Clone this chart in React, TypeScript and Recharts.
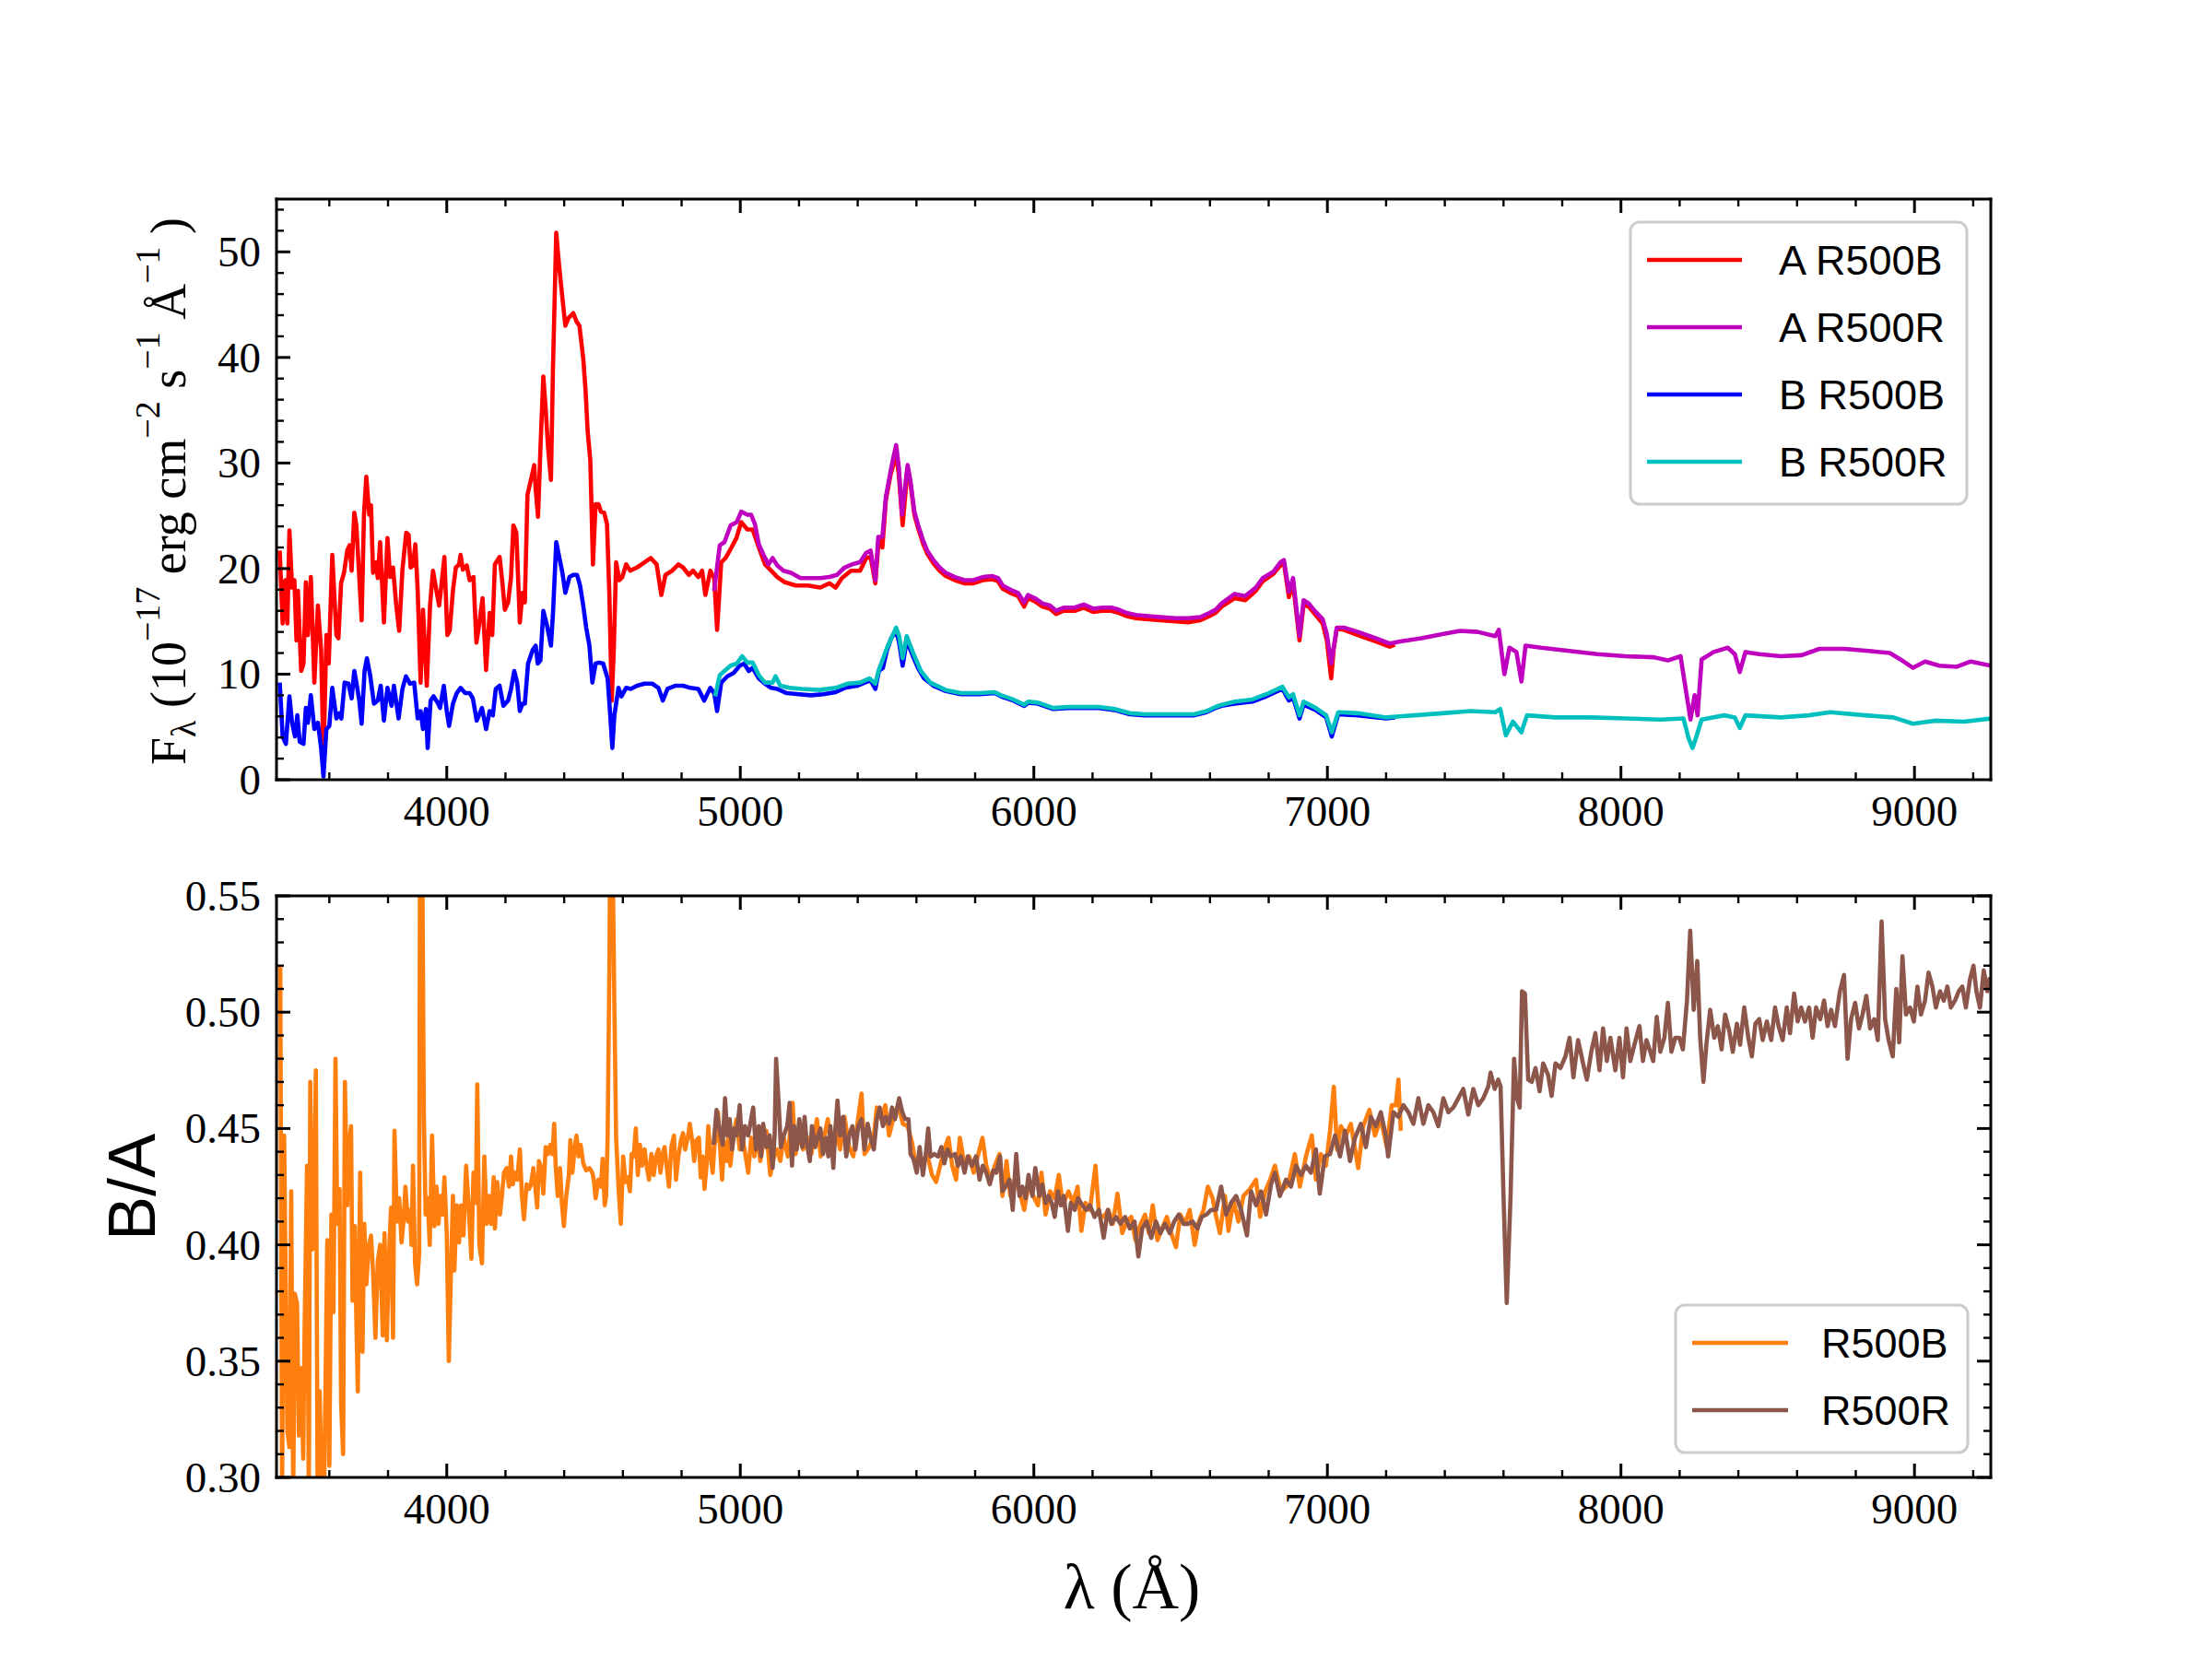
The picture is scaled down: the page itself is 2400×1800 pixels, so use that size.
import { LineChart, Line, XAxis, YAxis } from 'recharts';

type Pt = [number, number];

// ---- top panel: flux (1e-17 erg/cm2/s/A), [wavelength, value] ----
const aR500B: Pt[] = [
  [3431, 21.7], [3441, 14.8], [3450, 18.9], [3457, 14.8], [3464, 23.6], [3473, 18.2], [3481, 18.9], [3488, 13.2],
  [3493, 17.9], [3504, 10.3], [3512, 11], [3520, 18.7], [3527, 13.7], [3537, 19.2], [3549, 9.2], [3561, 16.5],
  [3572, 12.3], [3580, 2], [3590, 13.7], [3598, 11], [3610, 21.3], [3624, 13.7], [3631, 13.4], [3640, 18.6],
  [3650, 19.6], [3661, 21.7], [3669, 22.2], [3676, 19.8], [3685, 25.3], [3692, 24.1], [3702, 19.2], [3710, 15.1],
  [3718, 25.1], [3726, 28.7], [3736, 25.1], [3742, 26], [3749, 19.6], [3759, 20.6], [3765, 19.1], [3773, 22.5],
  [3786, 14.9], [3798, 22.9], [3807, 19.2], [3817, 20.1], [3828, 16.5], [3838, 14.1], [3849, 19.9], [3862, 23.4],
  [3870, 23.2], [3877, 20.1], [3885, 20.3], [3893, 22.3], [3901, 17.9], [3911, 9.2], [3919, 16.1], [3932, 8.9],
  [3943, 16.5], [3953, 19.8], [3963, 18.2], [3974, 16.5], [3981, 18.2], [3992, 21.1], [4002, 13.7], [4010, 14.1],
  [4021, 17.9], [4031, 20.1], [4042, 20.4], [4047, 21.3], [4055, 19.9], [4068, 20.3], [4078, 18.9], [4091, 19.2],
  [4101, 13], [4109, 14.4], [4122, 17.2], [4134, 10.4], [4146, 15.8], [4155, 13.7], [4164, 20.4], [4180, 21.1],
  [4188, 19.1], [4198, 16.1], [4209, 16.8], [4219, 19.2], [4227, 24.1], [4237, 23.4], [4249, 14.9], [4258, 17.7],
  [4266, 16.8], [4275, 27], [4285, 28.2], [4298, 29.8], [4303, 27.5], [4311, 24.9], [4319, 31.3], [4329, 38.2],
  [4337, 35.1], [4345, 31.5], [4355, 28.4], [4362, 39.2], [4373, 51.8], [4383, 48.6], [4396, 45.1], [4404, 43],
  [4414, 43.7], [4431, 44.2], [4442, 43.4], [4452, 43], [4465, 39.9], [4473, 36.8], [4480, 33], [4489, 30.3],
  [4498, 20.4], [4507, 26.1], [4517, 26.1], [4525, 25.4], [4536, 25.3], [4546, 24.2], [4554, 17.5], [4562, 7.5],
  [4569, 12.3], [4577, 20.6], [4588, 18.9], [4598, 19.2], [4611, 20.4], [4625, 19.8], [4648, 20.1], [4674, 20.6],
  [4695, 21], [4715, 20.4], [4731, 17.5], [4745, 19.4], [4768, 19.8], [4789, 20.4], [4805, 20.1], [4825, 19.4],
  [4839, 19.8], [4857, 19.2], [4870, 19.8], [4881, 17.5], [4898, 19.8], [4911, 19.1], [4921, 14.2], [4935, 20.6],
  [4950, 21], [4966, 21.8], [4987, 22.9], [5003, 24.4], [5024, 23.7], [5042, 23.7], [5063, 22], [5084, 20.4],
  [5105, 19.8], [5126, 19.2], [5152, 18.7], [5189, 18.4], [5231, 18.4], [5272, 18.2], [5304, 18.6], [5325, 18.2],
  [5346, 19.1], [5377, 19.8], [5408, 19.8], [5429, 21], [5444, 21.1], [5460, 18.6], [5472, 22.9], [5484, 22],
  [5496, 26.5], [5512, 28.9], [5531, 30.8], [5540, 28.9], [5553, 24.1], [5564, 27.6], [5570, 29.6], [5580, 28],
  [5593, 25.1], [5606, 23.8], [5622, 22.4], [5637, 21.4], [5658, 20.5], [5679, 19.8], [5700, 19.3], [5731, 18.9],
  [5763, 18.6], [5794, 18.6], [5826, 18.9], [5857, 19], [5878, 18.8], [5894, 18.1], [5920, 17.7], [5946, 17.4],
  [5967, 16.4], [5980, 17.2], [6003, 16.9], [6029, 16.4], [6055, 16.2], [6076, 15.7], [6102, 16], [6139, 16],
  [6170, 16.3], [6202, 15.9], [6233, 16], [6264, 16], [6290, 15.8], [6316, 15.5], [6348, 15.3], [6390, 15.2],
  [6431, 15.1], [6484, 15], [6525, 14.9], [6567, 15.1], [6598, 15.5], [6619, 15.8], [6640, 16.4], [6684, 17.2],
  [6720, 17], [6756, 17.9], [6780, 18.8], [6816, 19.5], [6840, 20.3], [6852, 20.5], [6869, 17.3], [6883, 18.6],
  [6905, 13.2], [6919, 16.6], [6936, 16.4], [6960, 15.6], [6984, 14.8], [6998, 13.2], [7013, 9.6], [7022, 12.5],
  [7032, 14.3], [7056, 14.2], [7104, 13.7], [7164, 13.1], [7212, 12.6], [7230, 12.8],
];

const aR500R: Pt[] = [
  [4911, 17.9], [4930, 22.2], [4946, 22.5], [4967, 24.1], [4988, 24.4], [5003, 25.4], [5024, 25.1], [5037, 25.1],
  [5050, 24.2], [5063, 22.3], [5079, 21.3], [5096, 20.4], [5110, 21], [5126, 20.3], [5147, 19.8], [5173, 19.6],
  [5205, 19.1], [5236, 19.1], [5272, 19.1], [5304, 19.2], [5329, 19.4], [5355, 20.1], [5381, 20.4], [5408, 20.6],
  [5429, 21.5], [5444, 21.7], [5460, 18.9], [5470, 23], [5484, 23], [5496, 26.8], [5512, 29.2], [5522, 30.6],
  [5531, 31.7], [5540, 29.6], [5551, 25.1], [5562, 27.9], [5570, 29.8], [5580, 28.2], [5593, 25.4], [5606, 24.1],
  [5622, 22.7], [5637, 21.7], [5658, 20.8], [5679, 20.1], [5700, 19.6], [5731, 19.2], [5763, 18.9], [5794, 18.9],
  [5826, 19.2], [5857, 19.3], [5878, 19.1], [5894, 18.4], [5920, 18], [5946, 17.7], [5967, 16.8], [5980, 17.5],
  [6003, 17.2], [6029, 16.7], [6055, 16.5], [6076, 16], [6102, 16.3], [6139, 16.3], [6170, 16.6], [6202, 16.2],
  [6233, 16.3], [6264, 16.3], [6290, 16.1], [6316, 15.8], [6348, 15.6], [6390, 15.5], [6431, 15.4], [6484, 15.3],
  [6525, 15.3], [6567, 15.4], [6598, 15.8], [6619, 16.1], [6640, 16.7], [6684, 17.6], [6720, 17.4], [6756, 18.2],
  [6780, 19.1], [6816, 19.7], [6840, 20.6], [6852, 20.8], [6869, 17.8], [6883, 19.1], [6905, 13.6], [6919, 17],
  [6936, 16.7], [6960, 15.9], [6984, 15.2], [6998, 13.8], [7013, 11], [7032, 14.4], [7056, 14.4], [7104, 14],
  [7164, 13.4], [7212, 12.9], [7248, 13.1], [7320, 13.4], [7392, 13.8], [7452, 14.1], [7512, 14], [7572, 13.6],
  [7584, 14.2], [7603, 10], [7620, 12.5], [7644, 12.1], [7661, 9.3], [7675, 12.7], [7728, 12.5], [7824, 12.2],
  [7920, 11.9], [8016, 11.7], [8112, 11.6], [8160, 11.3], [8203, 11.7], [8220, 8.7], [8237, 5.7], [8251, 8],
  [8261, 6.1], [8275, 11.4], [8316, 12.1], [8364, 12.5], [8388, 11.9], [8405, 10.2], [8424, 12.1], [8472, 11.9],
  [8544, 11.7], [8616, 11.8], [8676, 12.4], [8760, 12.4], [8844, 12.2], [8916, 12], [8952, 11.4], [8995, 10.6],
  [9036, 11.2], [9084, 10.8], [9144, 10.7], [9192, 11.2], [9260, 10.8],
];

const bR500B: Pt[] = [
  [3431, 9.2], [3441, 4.1], [3452, 3.4], [3464, 7.9], [3473, 5.4], [3483, 4.1], [3491, 6.1], [3499, 3.6],
  [3512, 3.4], [3520, 6.8], [3527, 5.4], [3537, 8], [3549, 4.8], [3561, 5.4], [3572, 3], [3580, 0.3],
  [3590, 4.8], [3600, 5.1], [3610, 8.7], [3624, 5.8], [3634, 6.3], [3641, 5.8], [3652, 9.2], [3665, 9.1],
  [3676, 7.7], [3685, 10.3], [3694, 8.9], [3702, 7.5], [3710, 5.3], [3720, 10.3], [3728, 11.5], [3739, 9.9],
  [3752, 7.2], [3765, 7.5], [3775, 8.9], [3786, 5.6], [3798, 8.7], [3812, 7], [3820, 8.9], [3836, 5.8],
  [3849, 8.6], [3861, 9.8], [3875, 9.1], [3889, 9.2], [3901, 5.8], [3911, 6.5], [3919, 4.8], [3929, 6.7],
  [3935, 3], [3945, 7.5], [3955, 7.9], [3969, 7.3], [3977, 6.8], [3990, 8.9], [4000, 6.5], [4008, 5.1],
  [4021, 7.2], [4034, 8.2], [4047, 8.7], [4063, 8.2], [4078, 8.2], [4089, 7.7], [4102, 5.6], [4120, 6.8],
  [4134, 4.8], [4146, 6.5], [4157, 6.1], [4167, 8.6], [4180, 8.9], [4193, 7], [4209, 7.5], [4219, 8.6],
  [4230, 10.3], [4240, 9.2], [4249, 6.5], [4258, 7.2], [4266, 7.2], [4277, 11], [4293, 12.3], [4303, 12.7],
  [4310, 11], [4319, 11.3], [4329, 16], [4340, 14.8], [4348, 13.7], [4355, 12.7], [4362, 15.8], [4373, 22.5],
  [4383, 21.1], [4394, 19.6], [4404, 17.7], [4418, 19.2], [4431, 19.4], [4444, 19.4], [4454, 18.4], [4465, 16.5],
  [4475, 14.4], [4486, 12.7], [4496, 9.2], [4507, 11], [4519, 11.1], [4533, 11], [4548, 9.6], [4557, 6.1],
  [4564, 3], [4571, 6.1], [4585, 8.7], [4595, 7.9], [4611, 8.7], [4627, 8.6], [4648, 8.9], [4674, 9.1],
  [4700, 9.1], [4721, 8.7], [4736, 7.5], [4752, 8.6], [4778, 8.9], [4805, 8.9], [4830, 8.7], [4857, 8.6],
  [4877, 7.5], [4898, 8.7], [4911, 8.2], [4921, 6.5], [4935, 9.2], [4956, 9.8], [4977, 10.1], [4998, 10.8],
  [5013, 11], [5029, 10.3], [5042, 10.6], [5063, 9.6], [5084, 9.1], [5105, 8.7], [5126, 8.6], [5158, 8.2],
  [5199, 8.1], [5241, 8], [5283, 8.1], [5325, 8.3], [5356, 8.7], [5398, 8.9], [5424, 9.2], [5444, 9.4],
  [5460, 8.6], [5472, 10.3], [5486, 10.6], [5500, 12.3], [5514, 13.4], [5531, 14.1], [5541, 13], [5553, 10.8],
  [5567, 13.2], [5584, 12], [5605, 10.6], [5626, 9.6], [5658, 8.9], [5700, 8.4], [5752, 8.1], [5815, 8.1],
  [5867, 8.2], [5888, 7.9], [5930, 7.5], [5967, 7], [5982, 7.3], [6014, 7.2], [6066, 6.7], [6118, 6.8],
  [6170, 6.8], [6222, 6.8], [6275, 6.6], [6327, 6.2], [6379, 6.1], [6431, 6.1], [6484, 6.1], [6546, 6.1],
  [6588, 6.4], [6619, 6.8], [6640, 7], [6684, 7.2], [6744, 7.4], [6792, 7.9], [6847, 8.6], [6869, 7.5],
  [6883, 7.8], [6905, 5.8], [6919, 7.1], [6960, 6.6], [6996, 5.9], [7015, 4.1], [7037, 6.2], [7104, 6.1],
  [7200, 5.8], [7230, 5.9],
];

const bR500R: Pt[] = [
  [4914, 7.9], [4930, 9.9], [4946, 10.3], [4967, 10.8], [4988, 11], [5006, 11.7], [5024, 11.1], [5042, 11.1],
  [5063, 9.9], [5084, 9.2], [5110, 9.2], [5120, 9.8], [5136, 8.9], [5168, 8.7], [5210, 8.6], [5272, 8.5],
  [5325, 8.7], [5366, 9.1], [5408, 9.2], [5440, 9.6], [5460, 9.1], [5472, 10.4], [5500, 12.5], [5531, 14.4],
  [5541, 13.6], [5553, 11.5], [5567, 13.6], [5589, 12], [5615, 10.3], [5647, 9.2], [5700, 8.5], [5752, 8.2],
  [5815, 8.2], [5867, 8.3], [5888, 8], [5930, 7.6], [5967, 7.1], [5982, 7.4], [6014, 7.3], [6066, 6.8],
  [6118, 6.9], [6170, 6.9], [6222, 6.9], [6275, 6.7], [6327, 6.3], [6379, 6.2], [6431, 6.2], [6484, 6.2],
  [6546, 6.2], [6588, 6.5], [6619, 6.9], [6640, 7.1], [6684, 7.4], [6744, 7.6], [6792, 8.1], [6847, 8.8],
  [6869, 7.8], [6883, 8.1], [6905, 6.1], [6919, 7.4], [6960, 6.8], [6996, 6.1], [7015, 4.5], [7037, 6.4],
  [7104, 6.3], [7200, 5.9], [7296, 6.1], [7392, 6.3], [7488, 6.5], [7572, 6.4], [7589, 6.7], [7608, 4.2],
  [7632, 5.5], [7661, 4.5], [7680, 6.1], [7776, 5.9], [7896, 5.9], [8016, 5.8], [8136, 5.7], [8213, 5.8],
  [8232, 3.8], [8244, 3], [8256, 4], [8275, 5.7], [8352, 6.1], [8388, 5.9], [8405, 4.9], [8424, 6.1],
  [8544, 5.9], [8640, 6.1], [8712, 6.4], [8832, 6.1], [8928, 5.9], [8995, 5.3], [9072, 5.6], [9168, 5.5],
  [9260, 5.8],
];

// ---- bottom panel: B/A ratio ----
const ratioR500B: Pt[] = [
  [3433, 0.52], [3439, 0.29], [3446, 0.447], [3457, 0.32], [3464, 0.313], [3470, 0.423], [3477, 0.29], [3482, 0.379],
  [3490, 0.375], [3496, 0.318], [3504, 0.347], [3511, 0.308], [3516, 0.366], [3524, 0.434], [3530, 0.29], [3535, 0.47],
  [3542, 0.398], [3547, 0.4], [3554, 0.475], [3560, 0.29], [3567, 0.337], [3575, 0.29], [3582, 0.29], [3593, 0.402],
  [3600, 0.305], [3607, 0.413], [3614, 0.371], [3621, 0.48], [3627, 0.409], [3635, 0.424], [3640, 0.332], [3647, 0.31],
  [3653, 0.47], [3661, 0.417], [3666, 0.442], [3674, 0.451], [3679, 0.376], [3687, 0.408], [3692, 0.368], [3697, 0.337],
  [3705, 0.431], [3713, 0.354], [3719, 0.409], [3726, 0.383], [3734, 0.399], [3742, 0.404], [3749, 0.388], [3757, 0.36],
  [3765, 0.393], [3773, 0.4], [3782, 0.361], [3788, 0.405], [3796, 0.359], [3803, 0.394], [3810, 0.416], [3817, 0.36],
  [3822, 0.449], [3830, 0.41], [3838, 0.42], [3846, 0.401], [3854, 0.412], [3859, 0.425], [3868, 0.41], [3875, 0.415],
  [3880, 0.4], [3885, 0.434], [3892, 0.392], [3899, 0.383], [3906, 0.396], [3909, 0.58], [3916, 0.58], [3922, 0.455],
  [3928, 0.413], [3935, 0.42], [3942, 0.4], [3950, 0.447], [3958, 0.408], [3965, 0.425], [3972, 0.409], [3979, 0.421],
  [3986, 0.413], [3992, 0.429], [4000, 0.405], [4007, 0.35], [4014, 0.387], [4021, 0.421], [4026, 0.389], [4034, 0.417],
  [4042, 0.401], [4049, 0.417], [4057, 0.404], [4066, 0.434], [4073, 0.42], [4084, 0.394], [4091, 0.431], [4099, 0.418],
  [4104, 0.469], [4111, 0.4], [4120, 0.392], [4128, 0.438], [4136, 0.409], [4143, 0.421], [4151, 0.409], [4160, 0.429],
  [4164, 0.407], [4172, 0.427], [4181, 0.413], [4188, 0.421], [4195, 0.431], [4204, 0.433], [4212, 0.425], [4219, 0.438],
  [4225, 0.426], [4232, 0.431], [4240, 0.428], [4249, 0.441], [4256, 0.421], [4263, 0.411], [4272, 0.426], [4280, 0.424],
  [4287, 0.426], [4295, 0.433], [4303, 0.423], [4308, 0.416], [4314, 0.436], [4322, 0.433], [4329, 0.422], [4337, 0.442],
  [4345, 0.439], [4353, 0.443], [4360, 0.439], [4366, 0.452], [4371, 0.434], [4378, 0.421], [4386, 0.433], [4392, 0.418],
  [4399, 0.408], [4407, 0.421], [4416, 0.43], [4421, 0.445], [4428, 0.431], [4436, 0.442], [4442, 0.447], [4449, 0.438],
  [4456, 0.443], [4465, 0.435], [4475, 0.432], [4486, 0.433], [4496, 0.431], [4501, 0.428], [4507, 0.42], [4517, 0.428],
  [4525, 0.425], [4531, 0.437], [4538, 0.417], [4543, 0.421], [4548, 0.446], [4554, 0.518], [4557, 0.58], [4564, 0.58],
  [4571, 0.502], [4577, 0.446], [4585, 0.425], [4593, 0.409], [4601, 0.438], [4609, 0.427], [4616, 0.429], [4624, 0.423],
  [4630, 0.439], [4637, 0.438], [4644, 0.45], [4651, 0.43], [4658, 0.443], [4665, 0.434], [4674, 0.441], [4682, 0.433],
  [4689, 0.428], [4697, 0.439], [4705, 0.43], [4713, 0.438], [4721, 0.441], [4728, 0.431], [4736, 0.439], [4742, 0.442],
  [4749, 0.434], [4757, 0.425], [4765, 0.442], [4774, 0.447], [4781, 0.428], [4789, 0.438], [4798, 0.445], [4805, 0.448],
  [4812, 0.441], [4821, 0.446], [4828, 0.452], [4837, 0.444], [4843, 0.436], [4851, 0.445], [4859, 0.446], [4865, 0.429],
  [4872, 0.438], [4878, 0.424], [4885, 0.434], [4891, 0.451], [4898, 0.439], [4906, 0.431], [4912, 0.443], [4919, 0.446],
  [4924, 0.457], [4933, 0.438], [4938, 0.428], [4945, 0.444], [4954, 0.436], [4961, 0.451], [4966, 0.434], [4977, 0.447],
  [4987, 0.454], [4998, 0.441], [5008, 0.446], [5027, 0.431], [5037, 0.446], [5048, 0.438], [5058, 0.447], [5068, 0.436],
  [5079, 0.444], [5089, 0.449], [5102, 0.43], [5115, 0.438], [5126, 0.441], [5136, 0.436], [5148, 0.446], [5162, 0.438],
  [5178, 0.461], [5188, 0.439], [5201, 0.447], [5214, 0.441], [5230, 0.446], [5242, 0.439], [5261, 0.454], [5274, 0.438],
  [5287, 0.447], [5298, 0.454], [5311, 0.441], [5324, 0.45], [5340, 0.441], [5355, 0.455], [5371, 0.442], [5385, 0.438],
  [5398, 0.451], [5413, 0.465], [5423, 0.439], [5439, 0.442], [5455, 0.447], [5465, 0.459], [5481, 0.454], [5494, 0.46],
  [5507, 0.447], [5523, 0.455], [5538, 0.46], [5554, 0.452], [5570, 0.451], [5585, 0.444], [5598, 0.434], [5608, 0.438],
  [5622, 0.436], [5637, 0.439], [5653, 0.43], [5667, 0.427], [5679, 0.433], [5695, 0.441], [5709, 0.446], [5722, 0.434],
  [5735, 0.428], [5748, 0.446], [5764, 0.434], [5780, 0.438], [5795, 0.431], [5811, 0.439], [5825, 0.446], [5838, 0.434],
  [5853, 0.428], [5867, 0.434], [5883, 0.439], [5893, 0.421], [5907, 0.436], [5920, 0.421], [5935, 0.428], [5951, 0.423],
  [5967, 0.415], [5982, 0.426], [5998, 0.421], [6014, 0.417], [6026, 0.431], [6040, 0.413], [6055, 0.423], [6071, 0.42],
  [6085, 0.43], [6099, 0.417], [6118, 0.423], [6134, 0.418], [6149, 0.425], [6162, 0.406], [6176, 0.418], [6191, 0.415],
  [6210, 0.434], [6222, 0.413], [6238, 0.412], [6254, 0.415], [6269, 0.409], [6285, 0.422], [6301, 0.405], [6317, 0.41],
  [6332, 0.412], [6346, 0.402], [6364, 0.409], [6379, 0.413], [6392, 0.405], [6405, 0.417], [6421, 0.402], [6437, 0.407],
  [6453, 0.412], [6468, 0.405], [6484, 0.399], [6499, 0.413], [6515, 0.409], [6531, 0.415], [6548, 0.4], [6562, 0.41],
  [6578, 0.415], [6593, 0.425], [6609, 0.42], [6621, 0.412], [6634, 0.405], [6651, 0.421], [6663, 0.406], [6680, 0.419],
  [6697, 0.41], [6714, 0.421], [6736, 0.424], [6757, 0.428], [6771, 0.412], [6788, 0.423], [6805, 0.428], [6821, 0.434],
  [6842, 0.423], [6867, 0.426], [6889, 0.439], [6906, 0.425], [6927, 0.438], [6947, 0.447], [6961, 0.428], [6978, 0.439],
  [6995, 0.434], [7009, 0.449], [7022, 0.468], [7033, 0.441], [7046, 0.451], [7063, 0.447], [7080, 0.452], [7105, 0.433],
  [7122, 0.451], [7143, 0.458], [7162, 0.447], [7182, 0.454], [7202, 0.442], [7219, 0.46], [7233, 0.46], [7242, 0.471],
  [7250, 0.449],
];

const ratioR500R: Pt[] = [
  [4909, 0.443], [4919, 0.458], [4930, 0.449], [4940, 0.443], [4948, 0.463], [4956, 0.447], [4964, 0.454], [4972, 0.441],
  [4980, 0.45], [4987, 0.447], [4998, 0.46], [5006, 0.441], [5016, 0.451], [5027, 0.447], [5034, 0.452], [5044, 0.459],
  [5053, 0.441], [5063, 0.451], [5071, 0.438], [5078, 0.452], [5089, 0.442], [5100, 0.447], [5110, 0.433], [5117, 0.447],
  [5122, 0.48], [5131, 0.46], [5138, 0.442], [5148, 0.447], [5160, 0.451], [5168, 0.461], [5176, 0.434], [5183, 0.451],
  [5192, 0.441], [5201, 0.454], [5211, 0.442], [5219, 0.455], [5226, 0.444], [5237, 0.436], [5244, 0.451], [5255, 0.442],
  [5265, 0.447], [5273, 0.45], [5282, 0.439], [5292, 0.446], [5300, 0.438], [5307, 0.451], [5317, 0.433], [5324, 0.45],
  [5331, 0.462], [5340, 0.447], [5350, 0.455], [5361, 0.438], [5371, 0.447], [5382, 0.451], [5392, 0.441], [5402, 0.451],
  [5413, 0.454], [5423, 0.441], [5434, 0.452], [5444, 0.446], [5455, 0.441], [5465, 0.454], [5475, 0.459], [5486, 0.451],
  [5496, 0.455], [5507, 0.452], [5517, 0.459], [5527, 0.454], [5541, 0.463], [5552, 0.457], [5562, 0.454], [5573, 0.454],
  [5580, 0.439], [5590, 0.437], [5601, 0.431], [5611, 0.442], [5622, 0.43], [5632, 0.439], [5640, 0.45], [5648, 0.438],
  [5661, 0.439], [5674, 0.438], [5685, 0.442], [5695, 0.435], [5706, 0.441], [5716, 0.438], [5732, 0.439], [5742, 0.434],
  [5752, 0.438], [5764, 0.431], [5775, 0.438], [5789, 0.434], [5803, 0.438], [5815, 0.428], [5826, 0.434], [5838, 0.431],
  [5850, 0.426], [5862, 0.432], [5872, 0.431], [5885, 0.438], [5893, 0.423], [5904, 0.425], [5917, 0.428], [5928, 0.415],
  [5940, 0.439], [5951, 0.421], [5961, 0.425], [5972, 0.42], [5982, 0.43], [5995, 0.421], [6005, 0.433], [6019, 0.421],
  [6029, 0.426], [6040, 0.418], [6050, 0.421], [6061, 0.418], [6071, 0.412], [6082, 0.423], [6092, 0.417], [6102, 0.421],
  [6116, 0.406], [6126, 0.418], [6139, 0.415], [6151, 0.42], [6165, 0.417], [6179, 0.415], [6191, 0.417], [6207, 0.412],
  [6222, 0.415], [6238, 0.403], [6252, 0.415], [6264, 0.409], [6280, 0.412], [6295, 0.409], [6311, 0.412], [6327, 0.407],
  [6343, 0.41], [6356, 0.395], [6369, 0.407], [6384, 0.41], [6400, 0.403], [6416, 0.41], [6431, 0.405], [6447, 0.409],
  [6463, 0.405], [6478, 0.41], [6494, 0.413], [6510, 0.409], [6525, 0.409], [6541, 0.41], [6557, 0.407], [6572, 0.412],
  [6588, 0.413], [6604, 0.415], [6621, 0.415], [6638, 0.425], [6655, 0.413], [6672, 0.418], [6689, 0.421], [6706, 0.415],
  [6726, 0.404], [6740, 0.423], [6757, 0.417], [6774, 0.423], [6791, 0.413], [6808, 0.426], [6821, 0.431], [6838, 0.421],
  [6859, 0.428], [6876, 0.425], [6893, 0.434], [6910, 0.43], [6927, 0.434], [6944, 0.431], [6961, 0.441], [6974, 0.422],
  [6991, 0.438], [7009, 0.439], [7026, 0.447], [7043, 0.438], [7060, 0.449], [7077, 0.436], [7094, 0.446], [7114, 0.452],
  [7131, 0.442], [7148, 0.455], [7165, 0.451], [7182, 0.457], [7199, 0.447], [7207, 0.438], [7225, 0.457], [7242, 0.455],
  [7259, 0.46], [7276, 0.457], [7293, 0.452], [7310, 0.463], [7327, 0.452], [7344, 0.46], [7361, 0.457], [7378, 0.451],
  [7395, 0.463], [7412, 0.457], [7429, 0.459], [7446, 0.463], [7463, 0.467], [7480, 0.456], [7497, 0.467], [7514, 0.46],
  [7531, 0.463], [7548, 0.468], [7556, 0.474], [7570, 0.467], [7582, 0.471], [7590, 0.468], [7600, 0.421], [7611, 0.375],
  [7624, 0.421], [7636, 0.48], [7646, 0.463], [7655, 0.459], [7663, 0.509], [7673, 0.508], [7684, 0.471], [7696, 0.47],
  [7709, 0.476], [7723, 0.466], [7735, 0.478], [7752, 0.473], [7764, 0.464], [7777, 0.478], [7794, 0.476], [7811, 0.481],
  [7825, 0.489], [7838, 0.472], [7854, 0.488], [7871, 0.478], [7884, 0.471], [7899, 0.483], [7913, 0.491], [7927, 0.475],
  [7939, 0.493], [7952, 0.479], [7964, 0.489], [7981, 0.475], [7995, 0.489], [8007, 0.472], [8019, 0.493], [8032, 0.479],
  [8046, 0.486], [8063, 0.494], [8075, 0.479], [8087, 0.488], [8100, 0.483], [8110, 0.479], [8122, 0.498], [8134, 0.483],
  [8148, 0.489], [8160, 0.504], [8172, 0.483], [8185, 0.489], [8199, 0.489], [8211, 0.484], [8225, 0.505], [8236, 0.535],
  [8248, 0.501], [8260, 0.522], [8270, 0.489], [8281, 0.47], [8291, 0.486], [8304, 0.501], [8318, 0.489], [8330, 0.494],
  [8343, 0.484], [8355, 0.499], [8369, 0.492], [8381, 0.483], [8395, 0.495], [8406, 0.486], [8420, 0.502], [8434, 0.489],
  [8446, 0.481], [8458, 0.495], [8471, 0.497], [8483, 0.488], [8497, 0.496], [8512, 0.488], [8525, 0.502], [8537, 0.494],
  [8551, 0.488], [8565, 0.502], [8576, 0.491], [8590, 0.508], [8602, 0.496], [8614, 0.502], [8627, 0.496], [8641, 0.502],
  [8653, 0.489], [8665, 0.502], [8679, 0.497], [8692, 0.505], [8704, 0.494], [8716, 0.501], [8729, 0.494], [8746, 0.509],
  [8760, 0.516], [8772, 0.48], [8784, 0.497], [8798, 0.504], [8811, 0.493], [8823, 0.499], [8836, 0.507], [8849, 0.493],
  [8863, 0.497], [8875, 0.488], [8888, 0.539], [8900, 0.497], [8912, 0.488], [8926, 0.481], [8938, 0.51], [8948, 0.487],
  [8959, 0.524], [8971, 0.499], [8985, 0.502], [8998, 0.496], [9010, 0.511], [9022, 0.499], [9036, 0.505], [9048, 0.517],
  [9061, 0.511], [9073, 0.502], [9087, 0.509], [9100, 0.505], [9112, 0.511], [9124, 0.502], [9138, 0.505], [9151, 0.509],
  [9163, 0.511], [9175, 0.502], [9189, 0.514], [9201, 0.52], [9211, 0.509], [9223, 0.502], [9236, 0.518], [9248, 0.509],
  [9257, 0.515],
];

// ---- axes ----
const xDomain = [3420, 9260];
const xTicks = [3600, 3800, 4000, 4200, 4400, 4600, 4800, 5000, 5200, 5400, 5600, 5800, 6000, 6200, 6400, 6600,
  6800, 7000, 7200, 7400, 7600, 7800, 8000, 8200, 8400, 8600, 8800, 9000, 9200];
const fluxDomain = [0, 55];
const fluxTicks = [0, 2, 4, 6, 8, 10, 12, 14, 16, 18, 20, 22, 24, 26, 28, 30, 32, 34, 36, 38, 40, 42, 44, 46, 48,
  50, 52, 54];
const ratioDomain = [0.3, 0.55];
const ratioTicks = [0.3, 0.31, 0.32, 0.33, 0.34, 0.35, 0.36, 0.37, 0.38, 0.39, 0.4, 0.41, 0.42, 0.43, 0.44, 0.45,
  0.46, 0.47, 0.48, 0.49, 0.5, 0.51, 0.52, 0.53, 0.54, 0.55];

const fluxSeries = [
  { name: 'A R500B', color: '#ff0000', data: aR500B },
  { name: 'A R500R', color: '#bf00bf', data: aR500R },
  { name: 'B R500B', color: '#0000ff', data: bR500B },
  { name: 'B R500R', color: '#00bfbf', data: bR500R },
];
const ratioSeries = [
  { name: 'R500B', color: '#ff7f0e', data: ratioR500B },
  { name: 'R500R', color: '#8c564b', data: ratioR500R },
];

const SERIF = '"Liberation Serif", "Times New Roman", serif';
const SANS = '"Liberation Sans", Arial, sans-serif';
const LW = 4.6;

const toRows = (pts: Pt[]) => pts.map(([x, y]) => ({ x, y }));

const majorX = (v: number) => v % 1000 === 0;
const majorFlux = (v: number) => v % 10 === 0;
const majorRatio = (v: number) => Math.abs(v * 20 - Math.round(v * 20)) < 1e-6;

// matplotlib-style inward ticks, drawn by hand
function makeTick(side: 'bottom' | 'top' | 'left' | 'right', isMajor: (v: number) => boolean, fmt?: (v: number) => string) {
  return (props: any) => {
    const { x, y, payload } = props;
    const v = payload.value;
    const major = isMajor(v);
    const len = major ? 15 : 8;
    let x2 = x;
    let y2 = y;
    if (side === 'bottom') y2 = y - len;
    if (side === 'top') y2 = y + len;
    if (side === 'left') x2 = x + len;
    if (side === 'right') x2 = x - len;
    let label = null;
    if (fmt && major && side === 'bottom') {
      label = <text x={x} y={y + 50} textAnchor="middle" fontSize={47} fontFamily={SERIF} fill="#000">{fmt(v)}</text>;
    }
    if (fmt && major && side === 'left') {
      label = <text x={x - 17} y={y + 16} textAnchor="end" fontSize={47} fontFamily={SERIF} fill="#000">{fmt(v)}</text>;
    }
    return (
      <g>
        <line x1={x} y1={y} x2={x2} y2={y2} stroke="#000" strokeWidth={major ? 3 : 2.4} />
        {label}
      </g>
    );
  };
}

const spine = { stroke: '#000', strokeWidth: 3, strokeLinecap: 'square' as const };

function Panel({ top, height, margin, yDomain, yTicks, yMajor, yFmt, series, clipY }: any) {
  return (
    <div style={{ position: 'absolute', left: 0, top }}>
      <LineChart width={2400} height={height} margin={margin}>
        <XAxis xAxisId="b" type="number" dataKey="x" domain={xDomain} ticks={xTicks} interval={0} allowDataOverflow
          height={60} tickSize={0} tickMargin={0} tickLine={false} axisLine={spine}
          tick={makeTick('bottom', majorX, (v) => String(v))} />
        <XAxis xAxisId="t" orientation="top" type="number" dataKey="x" domain={xDomain} ticks={xTicks} interval={0}
          allowDataOverflow height={1} tickSize={0} tickMargin={0} tickLine={false} axisLine={spine}
          tick={makeTick('top', majorX)} />
        <YAxis yAxisId="l" type="number" domain={yDomain} ticks={yTicks} interval={0} allowDataOverflow={clipY}
          width={100} tickSize={0} tickMargin={0} tickLine={false} axisLine={spine}
          tick={makeTick('left', yMajor, yFmt)} />
        <YAxis yAxisId="r" orientation="right" type="number" domain={yDomain} ticks={yTicks} interval={0}
          allowDataOverflow={clipY} width={1} tickSize={0} tickMargin={0} tickLine={false} axisLine={spine}
          tick={makeTick('right', yMajor)} />
        {series.map((s: any) => (
          <Line key={s.name} xAxisId="b" yAxisId="l" data={toRows(s.data)} dataKey="y" type="linear" stroke={s.color}
            strokeWidth={LW} strokeLinejoin="round" dot={false} activeDot={false} isAnimationActive={false} />
        ))}
      </LineChart>
    </div>
  );
}

function LegendBox({ x, y, w, h, rows, lineX1, lineX2, textX, items }: any) {
  return (
    <g>
      <rect x={x} y={y} width={w} height={h} rx={10} ry={10} fill="#fff" fillOpacity={0.8} stroke="#cccccc" strokeWidth={3} />
      {items.map((it: any, i: number) => (
        <g key={it.name}>
          <line x1={lineX1} x2={lineX2} y1={rows[i]} y2={rows[i]} stroke={it.color} strokeWidth={LW} />
          <text x={textX} y={rows[i] + 16} fontSize={45} fontFamily={SANS} fill="#000">{it.name}</text>
        </g>
      ))}
    </g>
  );
}

export default function App() {
  return (
    <div style={{ position: 'absolute', left: 0, top: 0, width: 2400, height: 1800, background: '#fff' }}>
      <Panel top={0} height={920} margin={{ top: 215, right: 239, bottom: 14, left: 200 }}
        yDomain={fluxDomain} yTicks={fluxTicks} yMajor={majorFlux} yFmt={(v: number) => String(v)}
        series={fluxSeries} clipY={false} />
      <Panel top={900} height={900} margin={{ top: 71, right: 239, bottom: 137, left: 200 }}
        yDomain={ratioDomain} yTicks={ratioTicks} yMajor={majorRatio} yFmt={(v: number) => v.toFixed(2)}
        series={ratioSeries} clipY={true} />
      <svg width={2400} height={1800} style={{ position: 'absolute', left: 0, top: 0, pointerEvents: 'none' }}>
        <text transform="translate(201,533) rotate(-90)" textAnchor="middle" fontSize={54} fontFamily={SERIF} fill="#000">
          F<tspan dy={11} fontSize={38}>λ</tspan>
          <tspan dy={-11}>{'\u00a0(10'}</tspan>
          <tspan dy={-28} fontSize={38}>−17</tspan>
          <tspan dy={28}>{'\u00a0erg cm'}</tspan>
          <tspan dy={-28} fontSize={38}>−2</tspan>
          <tspan dy={28}>{'\u00a0s'}</tspan>
          <tspan dy={-28} fontSize={38}>−1</tspan>
          <tspan dy={28}>{'\u00a0Å'}</tspan>
          <tspan dy={-28} fontSize={38}>−1</tspan>
          <tspan dy={28}>{'\u00a0)'}</tspan>
        </text>
        <text transform="translate(168,1288) rotate(-90)" textAnchor="middle" fontSize={72} fontFamily={SANS} fill="#000">B/A</text>
        <text x={1228} y={1745} textAnchor="middle" fontSize={70} fontFamily={SERIF} fill="#000">λ (Å)</text>
        <LegendBox x={1769} y={241} w={365} h={306} rows={[282, 355, 428, 501]} lineX1={1787} lineX2={1890}
          textX={1930} items={fluxSeries} />
        <LegendBox x={1818} y={1416} w={317} h={160} rows={[1457, 1530]} lineX1={1836} lineX2={1940}
          textX={1976} items={ratioSeries} />
      </svg>
    </div>
  );
}
